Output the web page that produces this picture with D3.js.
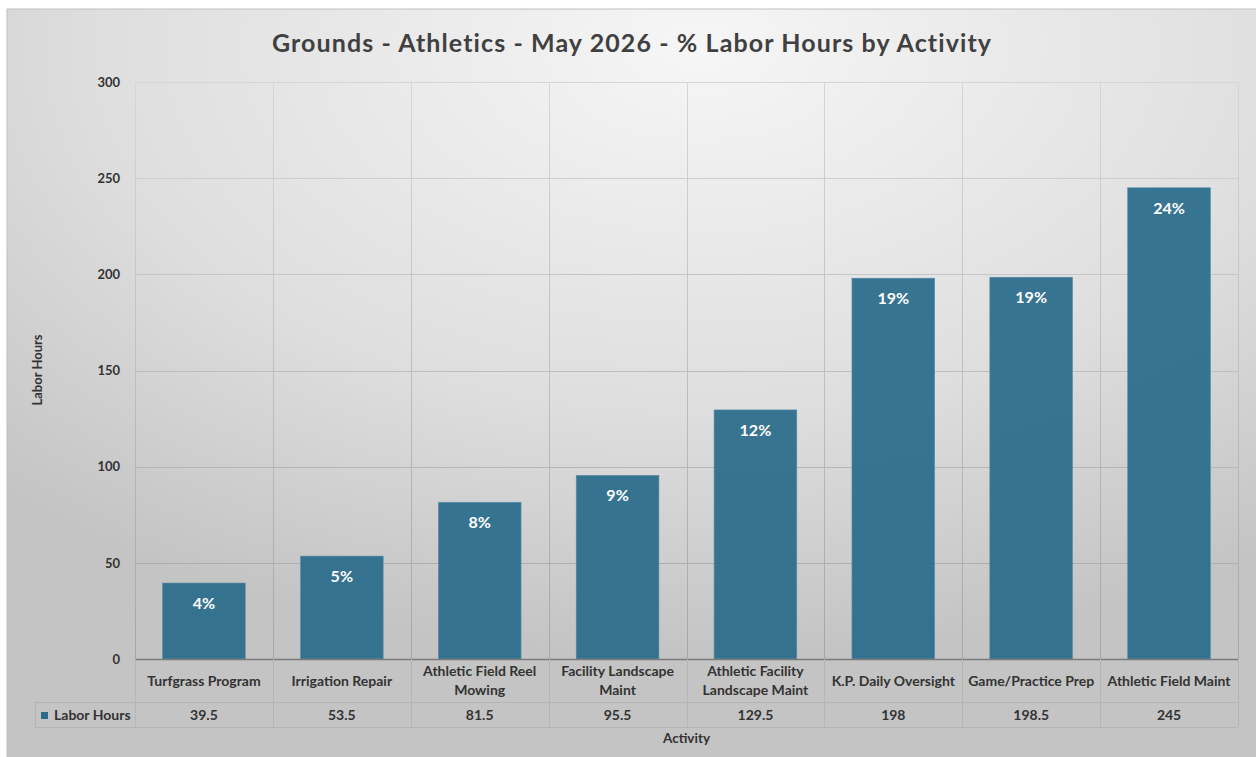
<!DOCTYPE html>
<html><head><meta charset="utf-8">
<script src="https://cdn.jsdelivr.net/npm/d3@7"></script>
<style>
html,body{margin:0;padding:0;background:#fff;}
svg{display:block;}
text{font-family:Lato,"Noto Sans",sans-serif;font-weight:700;}
</style></head>
<body>
<svg id="chart" width="1256" height="757"></svg>
<script>
const title = "Grounds - Athletics - May 2026 - % Labor Hours by Activity";
const categories = ["Turfgrass Program","Irrigation Repair","Athletic Field Reel Mowing","Facility Landscape Maint","Athletic Facility Landscape Maint","K.P. Daily Oversight","Game/Practice Prep","Athletic Field Maint"];
const laborHours = [39.5,53.5,81.5,95.5,129.5,198,198.5,245];
const valueLabels = ["39.5","53.5","81.5","95.5","129.5","198","198.5","245"];
const yTicks = [0,50,100,150,200,250,300];
const seriesName = "Labor Hours";
const yTitle = "Labor Hours";
const xTitle = "Activity";

const svg = d3.select("#chart");
const defs = svg.append("defs");
const bg = defs.append("radialGradient").attr("id","bg")
  .attr("cx","0.55").attr("cy","0.05").attr("r","0.8").attr("fx","0.55").attr("fy","0.05");
bg.append("stop").attr("offset","0").attr("stop-color","#f6f6f6");
bg.append("stop").attr("offset","0.6").attr("stop-color","#dedede");
bg.append("stop").attr("offset","1").attr("stop-color","#c4c4c4");

const L = 135, R = 1238, T = 82, B = 659;
const grid = defs.append("linearGradient").attr("id","grid")
  .attr("gradientUnits","userSpaceOnUse").attr("x1",0).attr("x2",0).attr("y1",T).attr("y2",B);
grid.append("stop").attr("offset","0").attr("stop-color","#d6d6d6");
grid.append("stop").attr("offset","1").attr("stop-color","#a6a6a6");

svg.append("rect").attr("x",7).attr("y",9).attr("width",1260).attr("height",760)
  .attr("fill","url(#bg)").attr("stroke","#c0c0c0").attr("stroke-width",1);

svg.append("text").attr("x",632).attr("y",52).attr("text-anchor","middle")
  .attr("fill","#404040").style("font-size","25px").style("letter-spacing","1.1px").text(title);

const x = d3.scaleBand().domain(categories).range([L,R]).paddingInner(0.4).paddingOuter(0.2);
const xc = d3.scaleBand().domain(categories).range([L,R]);
const y = d3.scaleLinear().domain([0,300]).range([B,T]);

// gridlines
const g = svg.append("g");
g.selectAll("line.h").data(yTicks.filter(d=>d>0)).join("line")
  .attr("x1",L).attr("x2",R).attr("y1",d=>Math.round(y(d))+0.5).attr("y2",d=>Math.round(y(d))+0.5)
  .attr("stroke","url(#grid)").attr("stroke-width",1);
const bounds = categories.map(c=>xc(c)).concat([R]);
g.selectAll("line.v").data(bounds).join("line")
  .attr("x1",d=>Math.round(d)+0.5).attr("x2",d=>Math.round(d)+0.5).attr("y1",T).attr("y2",B)
  .attr("stroke","url(#grid)").attr("stroke-width",1);

// bars
svg.append("g").selectAll("rect").data(laborHours).join("rect")
  .attr("x",(d,i)=>x(categories[i])).attr("width",x.bandwidth())
  .attr("y",d=>y(d)).attr("height",d=>B-y(d))
  .attr("fill","#2a6c8c").attr("fill-opacity",0.93)
  .attr("stroke","#5b8fa8").attr("stroke-width",0.6);

const total = d3.sum(laborHours);
svg.append("g").selectAll("text").data(laborHours).join("text")
  .attr("x",(d,i)=>x(categories[i])+x.bandwidth()/2).attr("y",d=>y(d)+26)
  .attr("text-anchor","middle").attr("fill","#ffffff").style("font-size","16px")
  .text(d=>Math.round(d/total*100)+"%");

// zero axis line
svg.append("line").attr("x1",L).attr("x2",R).attr("y1",B+0.5).attr("y2",B+0.5)
  .attr("stroke","#7a7a7a").attr("stroke-width",1.3);

// y axis
const ya = svg.append("g").attr("transform",`translate(${L},0)`)
  .call(d3.axisLeft(y).tickValues(yTicks).tickSize(0).tickPadding(15));
ya.select(".domain").remove();
ya.selectAll("text").attr("fill","#333").style("font-size","13px").style("font-family","Lato,sans-serif").style("font-weight","700");

svg.append("text").attr("transform","translate(42,370) rotate(-90)").attr("text-anchor","middle")
  .attr("fill","#333").style("font-size","13px").text(yTitle);

// data table
const TR1 = 702, TR2 = 727, LL = 35;
const tb = svg.append("g");
const tline = (x1,y1,x2,y2)=>tb.append("line").attr("x1",x1).attr("y1",y1).attr("x2",x2).attr("y2",y2)
  .attr("stroke","#b5b5b5").attr("stroke-width",1);
tline(LL,TR1+0.5,R,TR1+0.5);
tline(LL,TR2+0.5,R,TR2+0.5);
tline(LL+0.5,TR1,LL+0.5,TR2);
bounds.forEach(b=>tline(Math.round(b)+0.5,B,Math.round(b)+0.5,TR2));

// category labels with wrapping
categories.forEach((c,i)=>{
  const cx = xc(c)+xc.bandwidth()/2;
  const t = tb.append("text").attr("text-anchor","middle").attr("fill","#333").style("font-size","14px");
  const words = c.split(" ");
  let lines = [], cur = [];
  words.forEach(w=>{
    cur.push(w);
    t.text(cur.join(" "));
    if (t.node().getComputedTextLength() > xc.bandwidth()-4 && cur.length>1){
      cur.pop(); lines.push(cur.join(" ")); cur=[w];
    }
  });
  lines.push(cur.join(" "));
  t.text(null);
  const mid = (B+TR1)/2;
  const lh = 18.5;
  lines.forEach((ln,k)=>{
    t.append("tspan").attr("x",cx).attr("y",mid + 5 + (k-(lines.length-1)/2)*lh).text(ln);
  });
});

// values row
tb.selectAll("text.val").data(valueLabels).join("text").attr("class","val")
  .attr("x",(d,i)=>xc(categories[i])+xc.bandwidth()/2).attr("y",(TR1+TR2)/2+5)
  .attr("text-anchor","middle").attr("fill","#333").style("font-size","14px").text(d=>d);

// legend key cell
tb.append("rect").attr("x",41).attr("y",712).attr("width",7).attr("height",7).attr("fill","#2a6c8c");
tb.append("text").attr("x",54).attr("y",(TR1+TR2)/2+5).attr("fill","#333").style("font-size","14px").text(seriesName);

svg.append("text").attr("x",(L+R)/2).attr("y",743).attr("text-anchor","middle")
  .attr("fill","#333").style("font-size","13.5px").text(xTitle);
</script>
</body></html>
